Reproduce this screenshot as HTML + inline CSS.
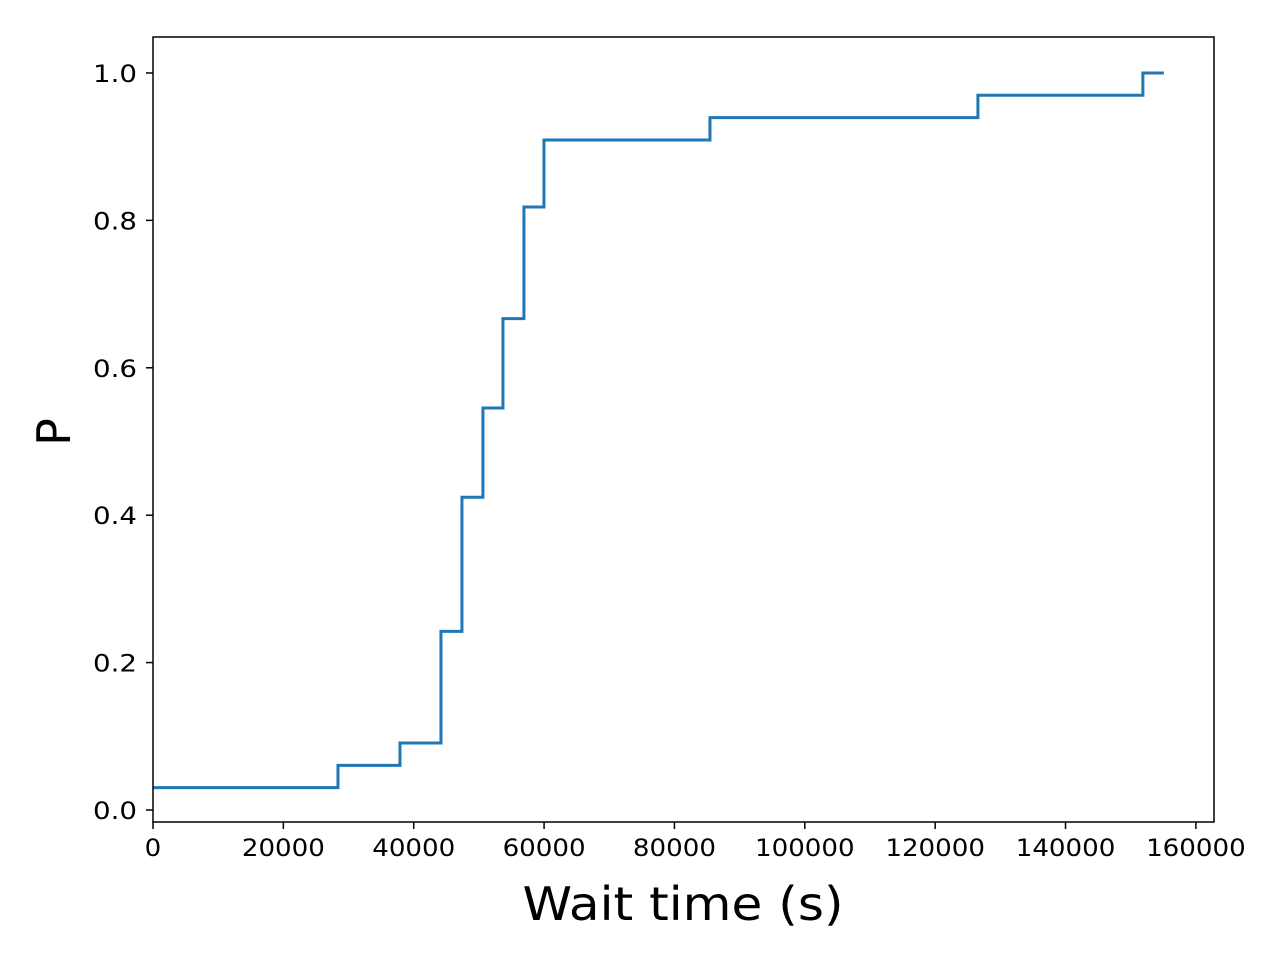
<!DOCTYPE html>
<html><head><meta charset="utf-8"><style>
html,body{margin:0;padding:0;background:#fff;}
svg{display:block;font-family:"DejaVu Sans","Liberation Sans",sans-serif;}
</style></head><body>
<svg id="chart" width="1280" height="960" viewBox="0 0 1280 960">
<rect x="0" y="0" width="1280" height="960" fill="#fff"/>
<g id="plot"></g>
<rect x="153" y="37" width="1061" height="785" fill="none" stroke="#000" stroke-width="1.5"/>
<text x="683" y="920" font-size="46" text-anchor="middle" textLength="321" lengthAdjust="spacingAndGlyphs">Wait time (s)</text>
<text x="0" y="0" font-size="46" text-anchor="middle" transform="translate(70,432) rotate(-90)">P</text>
</svg>
<script>
const stepX = [0, 28380, 37890, 44180, 47400, 50620, 53690, 56910, 59980, 85450, 126560, 151870];
const stepCount = [1, 2, 3, 8, 14, 18, 22, 27, 30, 31, 32, 33];
const total = 33;
const xEnd = 155090;
const xTicks = [0, 20000, 40000, 60000, 80000, 100000, 120000, 140000, 160000];
const yTicks = [0.0, 0.2, 0.4, 0.6, 0.8, 1.0];

const L=153,R=1214,T=37,B=822;
const xMin=0,xMax=162780,yMin=-0.0163,yMax=1.0488;
const sx=v=>L+(v-xMin)/(xMax-xMin)*(R-L);
const sy=v=>B-(v-yMin)/(yMax-yMin)*(B-T);
const NS="http://www.w3.org/2000/svg";
const g=document.getElementById('plot');
function mk(tag,attrs){const e=document.createElementNS(NS,tag);for(const k in attrs)e.setAttribute(k,attrs[k]);return e;}

xTicks.forEach(t=>{
  const l=mk('line',{x1:sx(t),x2:sx(t),y1:B,y2:B+7,stroke:'#000','stroke-width':1.5});
  
  
  g.appendChild(l);
  const s=String(t);
  const tx=mk('text',{x:sx(t),y:B+34,'font-size':24,'text-anchor':'middle',textLength:s.length*16.6,lengthAdjust:'spacingAndGlyphs'});
  tx.textContent=s;
  
  
  g.appendChild(tx);
});
yTicks.forEach(t=>{
  const l=mk('line',{x1:L-7,x2:L,y1:sy(t),y2:sy(t),stroke:'#000','stroke-width':1.5});
  
  
  g.appendChild(l);
  const tx=mk('text',{x:L-16,y:sy(t)+9,'font-size':24,'text-anchor':'end',textLength:44,lengthAdjust:'spacingAndGlyphs'});
  tx.textContent=t.toFixed(1);
  
  
  g.appendChild(tx);
});

let d='';
for(let i=0;i<stepX.length;i++){
  const y=sy(stepCount[i]/total);
  if(i===0) d+='M'+sx(stepX[i])+','+y;
  else d+=' L'+sx(stepX[i])+','+sy(stepCount[i-1]/total)+' L'+sx(stepX[i])+','+y;
}
d+=' L'+sx(xEnd)+','+sy(stepCount[stepCount.length-1]/total);
const p=mk('path',{d:d,fill:'none',stroke:'#1f77b4','stroke-width':3});


g.appendChild(p);
</script>
</body></html>
